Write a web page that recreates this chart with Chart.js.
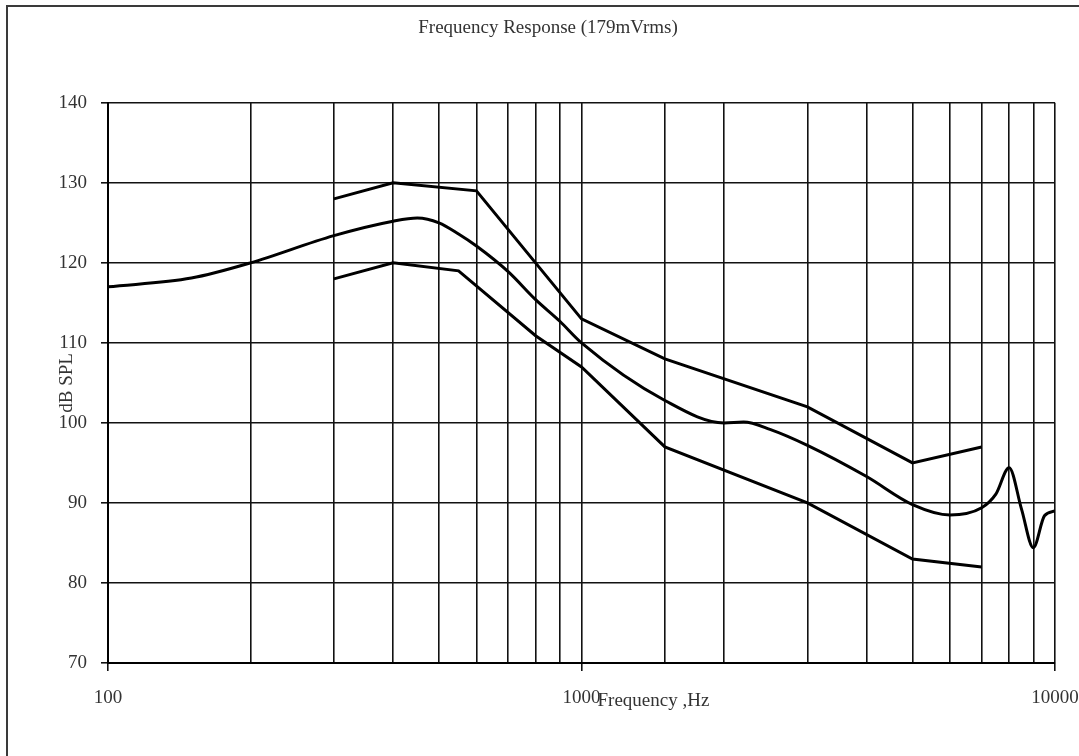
<!DOCTYPE html>
<html>
<head>
<meta charset="utf-8">
<script src="https://cdn.jsdelivr.net/npm/chart.js@4.4.1/dist/chart.umd.min.js"></script>
<style>
  html, body { margin: 0; padding: 0; background: #fff; overflow: hidden; }
  #wrap { position: relative; width: 1079px; height: 756px; }
  #frame { position: absolute; left: 6px; top: 5px; width: 1200px; height: 900px;
           border: 2.5px solid #3a3a3a; box-sizing: border-box; }
  canvas { position: absolute; left: 0; top: 0; }
</style>
</head>
<body>
<div id="wrap">
  <div id="frame"></div>
  <canvas id="c" width="1079" height="756"></canvas>
</div>
<script>
// ---- data ----
const chartTitle = 'Frequency Response (179mVrms)';
const xTitle = 'Frequency ,Hz';
const yTitle = 'dB SPL';

const xLabelValues = [100, 1000, 10000];
const yMin = 70, yMax = 140, yStep = 10;
const xMin = 100, xMax = 10000;

const upperFreq = [300, 400, 600, 1000, 1500, 3000, 5000, 7000];
const upperDb   = [128, 130, 129, 113, 108, 102, 95, 97];

const midFreq = [100, 150, 200, 300, 400, 450, 500, 550, 600, 700, 800, 900, 1000, 1500, 2000, 2200, 2500, 3000, 4000, 5000, 6000, 7000, 7500, 8000, 8500, 9000, 9500, 10000];
const midDb   = [117.0, 118.1, 120.0, 123.4, 125.2, 125.6, 125.0, 123.6, 122.1, 118.9, 115.4, 112.7, 110.0, 102.8, 100.0, 100.1, 99.2, 97.2, 93.3, 89.8, 88.5, 89.4, 91.1, 94.4, 89.2, 84.4, 88.4, 89.0];

const lowerFreq = [300, 400, 550, 800, 1000, 1500, 3000, 5000, 7000];
const lowerDb   = [118, 120, 119, 110.9, 107, 97, 90, 83, 82];

function pts(fs, ds) { return fs.map((f, i) => ({ x: f, y: ds[i] })); }

const FONT = 'Liberation Serif';
const TXT = '#333';

const xTitlePlugin = {
  id: 'xTitleText',
  afterDraw(chart) {
    const xs = chart.scales.x;
    const ctx = chart.ctx;
    ctx.save();
    ctx.font = '19px "' + FONT + '"';
    ctx.fillStyle = TXT;
    ctx.textAlign = 'left';
    ctx.textBaseline = 'alphabetic';
    ctx.fillText(xTitle, xs.getPixelForValue(1000) + 16, xs.top + 43);
    ctx.restore();
  }
};

const lineStyle = { borderColor: '#000', backgroundColor: '#000', borderWidth: 3, pointRadius: 0, fill: false };

new Chart(document.getElementById('c'), {
  type: 'line',
  data: {
    datasets: [
      Object.assign({ label: 'Upper', data: pts(upperFreq, upperDb), tension: 0 }, lineStyle),
      Object.assign({ label: 'Typical', data: pts(midFreq, midDb), cubicInterpolationMode: 'monotone' }, lineStyle),
      Object.assign({ label: 'Lower', data: pts(lowerFreq, lowerDb), tension: 0 }, lineStyle)
    ]
  },
  options: {
    responsive: false,
    animation: false,
    devicePixelRatio: 1,
    layout: { padding: { left: 17, top: 0, right: 0, bottom: 0 } },
    plugins: {
      legend: { display: false },
      tooltip: { enabled: false },
      title: {
        display: true, text: chartTitle, color: TXT,
        font: { family: FONT, size: 19, weight: 'normal' },
        padding: { top: 17, bottom: 63 }
      }
    },
    scales: {
      x: {
        type: 'logarithmic', min: xMin, max: xMax,
        afterFit(s) { s.height = 93; s.paddingRight = 24; s.paddingLeft = 0; },
        border: { color: '#000', width: 2 },
        grid: {
          color: '#111', lineWidth: 1.6, tickLength: 8,
          tickColor: (c) => (c.tick && xLabelValues.includes(c.tick.value)) ? '#111' : 'rgba(0,0,0,0)'
        },
        ticks: {
          autoSkip: false, maxRotation: 0, padding: 16, color: TXT,
          font: { family: FONT, size: 19 },
          callback: (v) => xLabelValues.includes(v) ? String(v) : ''
        }
      },
      y: {
        min: yMin, max: yMax,
        afterFit(s) { s.width = 91; },
        border: { color: '#000', width: 2 },
        grid: { color: '#111', lineWidth: 1.6, tickLength: 7, tickColor: '#111' },
        ticks: { stepSize: yStep, padding: 14, color: TXT, font: { family: FONT, size: 19 } },
        title: {
          display: true, text: yTitle, color: TXT,
          font: { family: FONT, size: 19 },
          padding: { top: 39, bottom: 0 }
        }
      }
    }
  },
  plugins: [xTitlePlugin]
});
</script>
</body>
</html>
